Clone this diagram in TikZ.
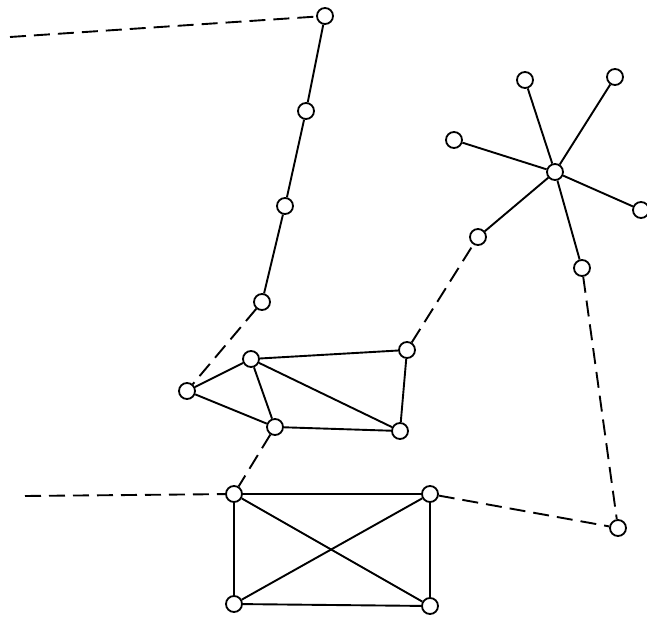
\documentclass[tikz,border=0pt]{standalone}
\begin{document}
\begin{tikzpicture}[x=1pt,y=-1pt,
  vtx/.style={circle,draw,fill=white,line width=1.8pt,inner sep=0pt,minimum size=16pt},
  edge/.style={line width=1.9pt},
  dedge/.style={line width=1.9pt,dash pattern=on 16pt off 8pt}]
\useasboundingbox (0,0) rectangle (647,620);
% coordinates
\coordinate (e1) at (10,37);
\coordinate (e2) at (25,496);
% nodes
\node[vtx] (n1) at (325,16) {};
\node[vtx] (n2) at (306,111) {};
\node[vtx] (n3) at (285,206) {};
\node[vtx] (n4) at (262,302) {};
\node[vtx] (L) at (187,391) {};
\node[vtx] (A) at (251,359) {};
\node[vtx] (B) at (407,350) {};
\node[vtx] (C) at (275,427) {};
\node[vtx] (D) at (400,431) {};
\node[vtx] (E) at (478,237) {};
\node[vtx] (H) at (555,172) {};
\node[vtx] (s1) at (525,80) {};
\node[vtx] (s2) at (615,77) {};
\node[vtx] (s3) at (454,140) {};
\node[vtx] (s4) at (641,210) {};
\node[vtx] (s5) at (582,268) {};
\node[vtx] (F) at (618,528) {};
\node[vtx] (R1) at (234,494) {};
\node[vtx] (R2) at (430,494) {};
\node[vtx] (R3) at (234,604) {};
\node[vtx] (R4) at (430,606) {};
% dashed connectors
\draw[dedge] (e1) -- (n1);
\draw[dedge] (n4) -- (L);
\draw[dedge] (B) -- (E);
\draw[dedge] (s5) -- (F);
\draw[dedge] (C) -- (R1);
\draw[dedge] (e2) -- (R1);
\draw[dedge] (R2) -- (F);
% solid connectors
\draw[edge] (n1) -- (n2);
\draw[edge] (n2) -- (n3);
\draw[edge] (n3) -- (n4);
\draw[edge] (L) -- (A);
\draw[edge] (L) -- (C);
\draw[edge] (A) -- (C);
\draw[edge] (A) -- (B);
\draw[edge] (A) -- (D);
\draw[edge] (B) -- (D);
\draw[edge] (C) -- (D);
\draw[edge] (E) -- (H);
\draw[edge] (H) -- (s1);
\draw[edge] (H) -- (s2);
\draw[edge] (H) -- (s3);
\draw[edge] (H) -- (s4);
\draw[edge] (H) -- (s5);
\draw[edge] (R1) -- (R2);
\draw[edge] (R2) -- (R4);
\draw[edge] (R4) -- (R3);
\draw[edge] (R3) -- (R1);
\draw[edge] (R1) -- (R4);
\draw[edge] (R2) -- (R3);
\end{tikzpicture}
\end{document}
